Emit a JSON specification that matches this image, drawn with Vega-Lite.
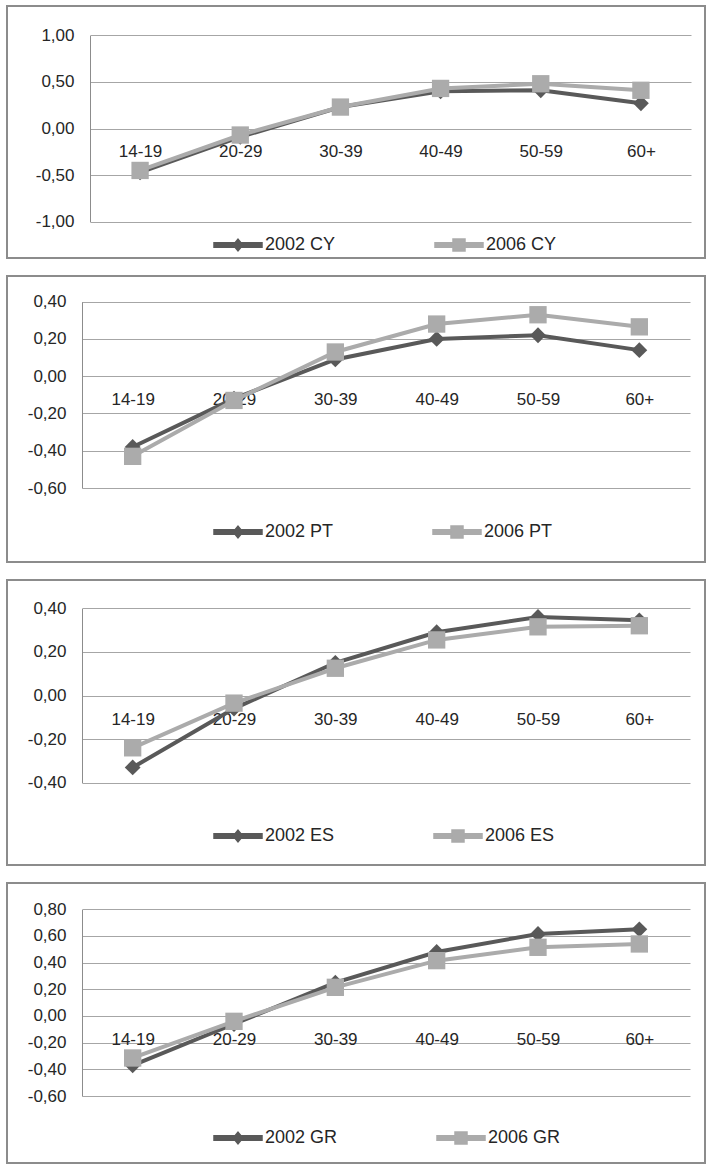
{
  "$schema": "https://vega.github.io/schema/vega-lite/v6.json",
  "padding": {"left": 6, "top": 5, "right": 0, "bottom": 0},
  "background": "white",
  "spacing": 16,
  "data": {
    "values": [
      {"country": "CY", "series": "2002 CY", "age": "14-19", "value": -0.47},
      {"country": "CY", "series": "2002 CY", "age": "20-29", "value": -0.09},
      {"country": "CY", "series": "2002 CY", "age": "30-39", "value": 0.23},
      {"country": "CY", "series": "2002 CY", "age": "40-49", "value": 0.40},
      {"country": "CY", "series": "2002 CY", "age": "50-59", "value": 0.41},
      {"country": "CY", "series": "2002 CY", "age": "60+", "value": 0.27},
      {"country": "CY", "series": "2006 CY", "age": "14-19", "value": -0.45},
      {"country": "CY", "series": "2006 CY", "age": "20-29", "value": -0.07},
      {"country": "CY", "series": "2006 CY", "age": "30-39", "value": 0.23},
      {"country": "CY", "series": "2006 CY", "age": "40-49", "value": 0.43},
      {"country": "CY", "series": "2006 CY", "age": "50-59", "value": 0.48},
      {"country": "CY", "series": "2006 CY", "age": "60+", "value": 0.41},
      {"country": "PT", "series": "2002 PT", "age": "14-19", "value": -0.38},
      {"country": "PT", "series": "2002 PT", "age": "20-29", "value": -0.12},
      {"country": "PT", "series": "2002 PT", "age": "30-39", "value": 0.09},
      {"country": "PT", "series": "2002 PT", "age": "40-49", "value": 0.20},
      {"country": "PT", "series": "2002 PT", "age": "50-59", "value": 0.22},
      {"country": "PT", "series": "2002 PT", "age": "60+", "value": 0.14},
      {"country": "PT", "series": "2006 PT", "age": "14-19", "value": -0.43},
      {"country": "PT", "series": "2006 PT", "age": "20-29", "value": -0.13},
      {"country": "PT", "series": "2006 PT", "age": "30-39", "value": 0.13},
      {"country": "PT", "series": "2006 PT", "age": "40-49", "value": 0.28},
      {"country": "PT", "series": "2006 PT", "age": "50-59", "value": 0.33},
      {"country": "PT", "series": "2006 PT", "age": "60+", "value": 0.265},
      {"country": "ES", "series": "2002 ES", "age": "14-19", "value": -0.33},
      {"country": "ES", "series": "2002 ES", "age": "20-29", "value": -0.06},
      {"country": "ES", "series": "2002 ES", "age": "30-39", "value": 0.15},
      {"country": "ES", "series": "2002 ES", "age": "40-49", "value": 0.29},
      {"country": "ES", "series": "2002 ES", "age": "50-59", "value": 0.36},
      {"country": "ES", "series": "2002 ES", "age": "60+", "value": 0.345},
      {"country": "ES", "series": "2006 ES", "age": "14-19", "value": -0.24},
      {"country": "ES", "series": "2006 ES", "age": "20-29", "value": -0.035},
      {"country": "ES", "series": "2006 ES", "age": "30-39", "value": 0.125},
      {"country": "ES", "series": "2006 ES", "age": "40-49", "value": 0.255},
      {"country": "ES", "series": "2006 ES", "age": "50-59", "value": 0.315},
      {"country": "ES", "series": "2006 ES", "age": "60+", "value": 0.32},
      {"country": "GR", "series": "2002 GR", "age": "14-19", "value": -0.37},
      {"country": "GR", "series": "2002 GR", "age": "20-29", "value": -0.06},
      {"country": "GR", "series": "2002 GR", "age": "30-39", "value": 0.25},
      {"country": "GR", "series": "2002 GR", "age": "40-49", "value": 0.48},
      {"country": "GR", "series": "2002 GR", "age": "50-59", "value": 0.615},
      {"country": "GR", "series": "2002 GR", "age": "60+", "value": 0.65},
      {"country": "GR", "series": "2006 GR", "age": "14-19", "value": -0.315},
      {"country": "GR", "series": "2006 GR", "age": "20-29", "value": -0.04},
      {"country": "GR", "series": "2006 GR", "age": "30-39", "value": 0.215},
      {"country": "GR", "series": "2006 GR", "age": "40-49", "value": 0.415},
      {"country": "GR", "series": "2006 GR", "age": "50-59", "value": 0.515},
      {"country": "GR", "series": "2006 GR", "age": "60+", "value": 0.54}
    ]
  },
  "resolve": {"scale": {"x": "independent", "y": "independent", "color": "independent"}},
  "vconcat": [
    {
      "width": 698, "height": 252,
      "transform": [{"filter": "datum.country == 'CY'"}],
      "encoding": {
        "x": {"field": "age", "type": "ordinal", "sort": ["14-19", "20-29", "30-39", "40-49", "50-59", "60+"],
          "scale": {"range": [83, 684], "padding": 0.5},
          "axis": {"orient": "bottom", "offset": -129.3, "labelPadding": 23, "labelBaseline": "middle", "labelAngle": 0, "domain": false, "grid": false, "title": null}},
        "y": {"field": "value", "type": "quantitative",
          "scale": {"domain": [-1, 1], "range": [215.7, 29.3], "nice": false, "zero": false},
          "axis": {"offset": -83, "values": [-1, -0.5, 0, 0.5, 1], "labelExpr": "(datum.value < 0 ? '-' : '') + replace(format(abs(datum.value), '.2f'), '.', ',')", "labelPadding": 16, "domain": true, "grid": true, "title": null}},
        "color": {"field": "series", "type": "nominal", "scale": {"domain": ["2002 CY", "2006 CY"], "range": ["#595959", "#ababab"]},
          "legend": {"orient": "none", "legendX": 206, "legendY": 214, "direction": "horizontal", "title": null, "symbolSize": 2304, "labelOffset": 2, "columnPadding": 96, "padding": 0,
            "encode": {"symbols": {"update": {"shape": {"signal": "indexof(datum.value, '2002') == 0 ? 'M-1,-0.09L1,-0.09L1,0.09L-1,0.09ZM0,-0.24L0.2,0L0,0.24L-0.2,0Z' : 'M-1,-0.09L1,-0.09L1,0.09L-1,0.09ZM-0.25,-0.25L0.25,-0.25L0.25,0.25L-0.25,0.25Z'"}, "size": {"value": 2304}, "fill": {"signal": "indexof(datum.value, '2002') == 0 ? '#595959' : '#ababab'"}, "stroke": {"value": "transparent"}, "opacity": {"value": 1}}}}}}
      },
      "layer": [
        {"mark": {"type": "line", "strokeWidth": 4}},
        {"transform": [{"filter": "indexof(datum.series, '2002') == 0"}], "mark": {"type": "point", "filled": true, "opacity": 1, "shape": "diamond", "size": 250}},
        {"transform": [{"filter": "indexof(datum.series, '2006') == 0"}], "mark": {"type": "point", "filled": true, "opacity": 1, "shape": "square", "size": 300}}
      ]
    },
    {
      "width": 698, "height": 286,
      "transform": [{"filter": "datum.country == 'PT'"}],
      "encoding": {
        "x": {"field": "age", "type": "ordinal", "sort": ["14-19", "20-29", "30-39", "40-49", "50-59", "60+"],
          "scale": {"range": [75, 683], "padding": 0.5},
          "axis": {"orient": "bottom", "offset": -185.8, "labelPadding": 23, "labelBaseline": "middle", "labelAngle": 0, "domain": false, "grid": false, "title": null}},
        "y": {"field": "value", "type": "quantitative",
          "scale": {"domain": [-0.6, 0.4], "range": [212, 25.7], "nice": false, "zero": false},
          "axis": {"offset": -75, "values": [-0.6, -0.4, -0.2, 0, 0.2, 0.4], "labelExpr": "(datum.value < 0 ? '-' : '') + replace(format(abs(datum.value), '.2f'), '.', ',')", "labelPadding": 16, "domain": true, "grid": true, "title": null}},
        "color": {"field": "series", "type": "nominal", "scale": {"domain": ["2002 PT", "2006 PT"], "range": ["#595959", "#ababab"]},
          "legend": {"orient": "none", "legendX": 206, "legendY": 231, "direction": "horizontal", "title": null, "symbolSize": 2304, "labelOffset": 2, "columnPadding": 96, "padding": 0,
            "encode": {"symbols": {"update": {"shape": {"signal": "indexof(datum.value, '2002') == 0 ? 'M-1,-0.09L1,-0.09L1,0.09L-1,0.09ZM0,-0.24L0.2,0L0,0.24L-0.2,0Z' : 'M-1,-0.09L1,-0.09L1,0.09L-1,0.09ZM-0.25,-0.25L0.25,-0.25L0.25,0.25L-0.25,0.25Z'"}, "size": {"value": 2304}, "fill": {"signal": "indexof(datum.value, '2002') == 0 ? '#595959' : '#ababab'"}, "stroke": {"value": "transparent"}, "opacity": {"value": 1}}}}}}
      },
      "layer": [
        {"mark": {"type": "line", "strokeWidth": 4}},
        {"transform": [{"filter": "indexof(datum.series, '2002') == 0"}], "mark": {"type": "point", "filled": true, "opacity": 1, "shape": "diamond", "size": 250}},
        {"transform": [{"filter": "indexof(datum.series, '2006') == 0"}], "mark": {"type": "point", "filled": true, "opacity": 1, "shape": "square", "size": 300}}
      ]
    },
    {
      "width": 698, "height": 285,
      "transform": [{"filter": "datum.country == 'ES'"}],
      "encoding": {
        "x": {"field": "age", "type": "ordinal", "sort": ["14-19", "20-29", "30-39", "40-49", "50-59", "60+"],
          "scale": {"range": [75, 683], "padding": 0.5},
          "axis": {"orient": "bottom", "offset": -169.5, "labelPadding": 24, "labelBaseline": "middle", "labelAngle": 0, "domain": false, "grid": false, "title": null}},
        "y": {"field": "value", "type": "quantitative",
          "scale": {"domain": [-0.4, 0.4], "range": [202.7, 28.3], "nice": false, "zero": false},
          "axis": {"offset": -75, "values": [-0.4, -0.2, 0, 0.2, 0.4], "labelExpr": "(datum.value < 0 ? '-' : '') + replace(format(abs(datum.value), '.2f'), '.', ',')", "labelPadding": 16, "domain": true, "grid": true, "title": null}},
        "color": {"field": "series", "type": "nominal", "scale": {"domain": ["2002 ES", "2006 ES"], "range": ["#595959", "#ababab"]},
          "legend": {"orient": "none", "legendX": 206, "legendY": 231, "direction": "horizontal", "title": null, "symbolSize": 2304, "labelOffset": 2, "columnPadding": 96, "padding": 0,
            "encode": {"symbols": {"update": {"shape": {"signal": "indexof(datum.value, '2002') == 0 ? 'M-1,-0.09L1,-0.09L1,0.09L-1,0.09ZM0,-0.24L0.2,0L0,0.24L-0.2,0Z' : 'M-1,-0.09L1,-0.09L1,0.09L-1,0.09ZM-0.25,-0.25L0.25,-0.25L0.25,0.25L-0.25,0.25Z'"}, "size": {"value": 2304}, "fill": {"signal": "indexof(datum.value, '2002') == 0 ? '#595959' : '#ababab'"}, "stroke": {"value": "transparent"}, "opacity": {"value": 1}}}}}}
      },
      "layer": [
        {"mark": {"type": "line", "strokeWidth": 4}},
        {"transform": [{"filter": "indexof(datum.series, '2002') == 0"}], "mark": {"type": "point", "filled": true, "opacity": 1, "shape": "diamond", "size": 250}},
        {"transform": [{"filter": "indexof(datum.series, '2006') == 0"}], "mark": {"type": "point", "filled": true, "opacity": 1, "shape": "square", "size": 300}}
      ]
    },
    {
      "width": 698, "height": 280,
      "transform": [{"filter": "datum.country == 'GR'"}],
      "encoding": {
        "x": {"field": "age", "type": "ordinal", "sort": ["14-19", "20-29", "30-39", "40-49", "50-59", "60+"],
          "scale": {"range": [75, 683], "padding": 0.5},
          "axis": {"orient": "bottom", "offset": -147, "labelPadding": 23, "labelBaseline": "middle", "labelAngle": 0, "domain": false, "grid": false, "title": null}},
        "y": {"field": "value", "type": "quantitative",
          "scale": {"domain": [-0.6, 0.8], "range": [213, 26.3], "nice": false, "zero": false},
          "axis": {"offset": -75, "values": [-0.6, -0.4, -0.2, 0, 0.2, 0.4, 0.6, 0.8], "labelExpr": "(datum.value < 0 ? '-' : '') + replace(format(abs(datum.value), '.2f'), '.', ',')", "labelPadding": 16, "domain": true, "grid": true, "title": null}},
        "color": {"field": "series", "type": "nominal", "scale": {"domain": ["2002 GR", "2006 GR"], "range": ["#595959", "#ababab"]},
          "legend": {"orient": "none", "legendX": 206, "legendY": 230, "direction": "horizontal", "title": null, "symbolSize": 2304, "labelOffset": 2, "columnPadding": 96, "padding": 0,
            "encode": {"symbols": {"update": {"shape": {"signal": "indexof(datum.value, '2002') == 0 ? 'M-1,-0.09L1,-0.09L1,0.09L-1,0.09ZM0,-0.24L0.2,0L0,0.24L-0.2,0Z' : 'M-1,-0.09L1,-0.09L1,0.09L-1,0.09ZM-0.25,-0.25L0.25,-0.25L0.25,0.25L-0.25,0.25Z'"}, "size": {"value": 2304}, "fill": {"signal": "indexof(datum.value, '2002') == 0 ? '#595959' : '#ababab'"}, "stroke": {"value": "transparent"}, "opacity": {"value": 1}}}}}}
      },
      "layer": [
        {"mark": {"type": "line", "strokeWidth": 4}},
        {"transform": [{"filter": "indexof(datum.series, '2002') == 0"}], "mark": {"type": "point", "filled": true, "opacity": 1, "shape": "diamond", "size": 250}},
        {"transform": [{"filter": "indexof(datum.series, '2006') == 0"}], "mark": {"type": "point", "filled": true, "opacity": 1, "shape": "square", "size": 300}}
      ]
    }
  ],
  "config": {
    "font": "Liberation Sans",
    "view": {"stroke": "#8c8c8c", "strokeWidth": 2},
    "axis": {"labelFont": "Liberation Sans", "labelFontSize": 17, "labelColor": "#262626", "gridColor": "#a6a6a6", "gridWidth": 1, "domainColor": "#8c8c8c", "domainWidth": 1, "ticks": false, "tickSize": 0, "labelOverlap": false, "labelFlush": false},
    "legend": {"labelFont": "Liberation Sans", "labelFontSize": 18, "labelColor": "#262626"}
  }
}
